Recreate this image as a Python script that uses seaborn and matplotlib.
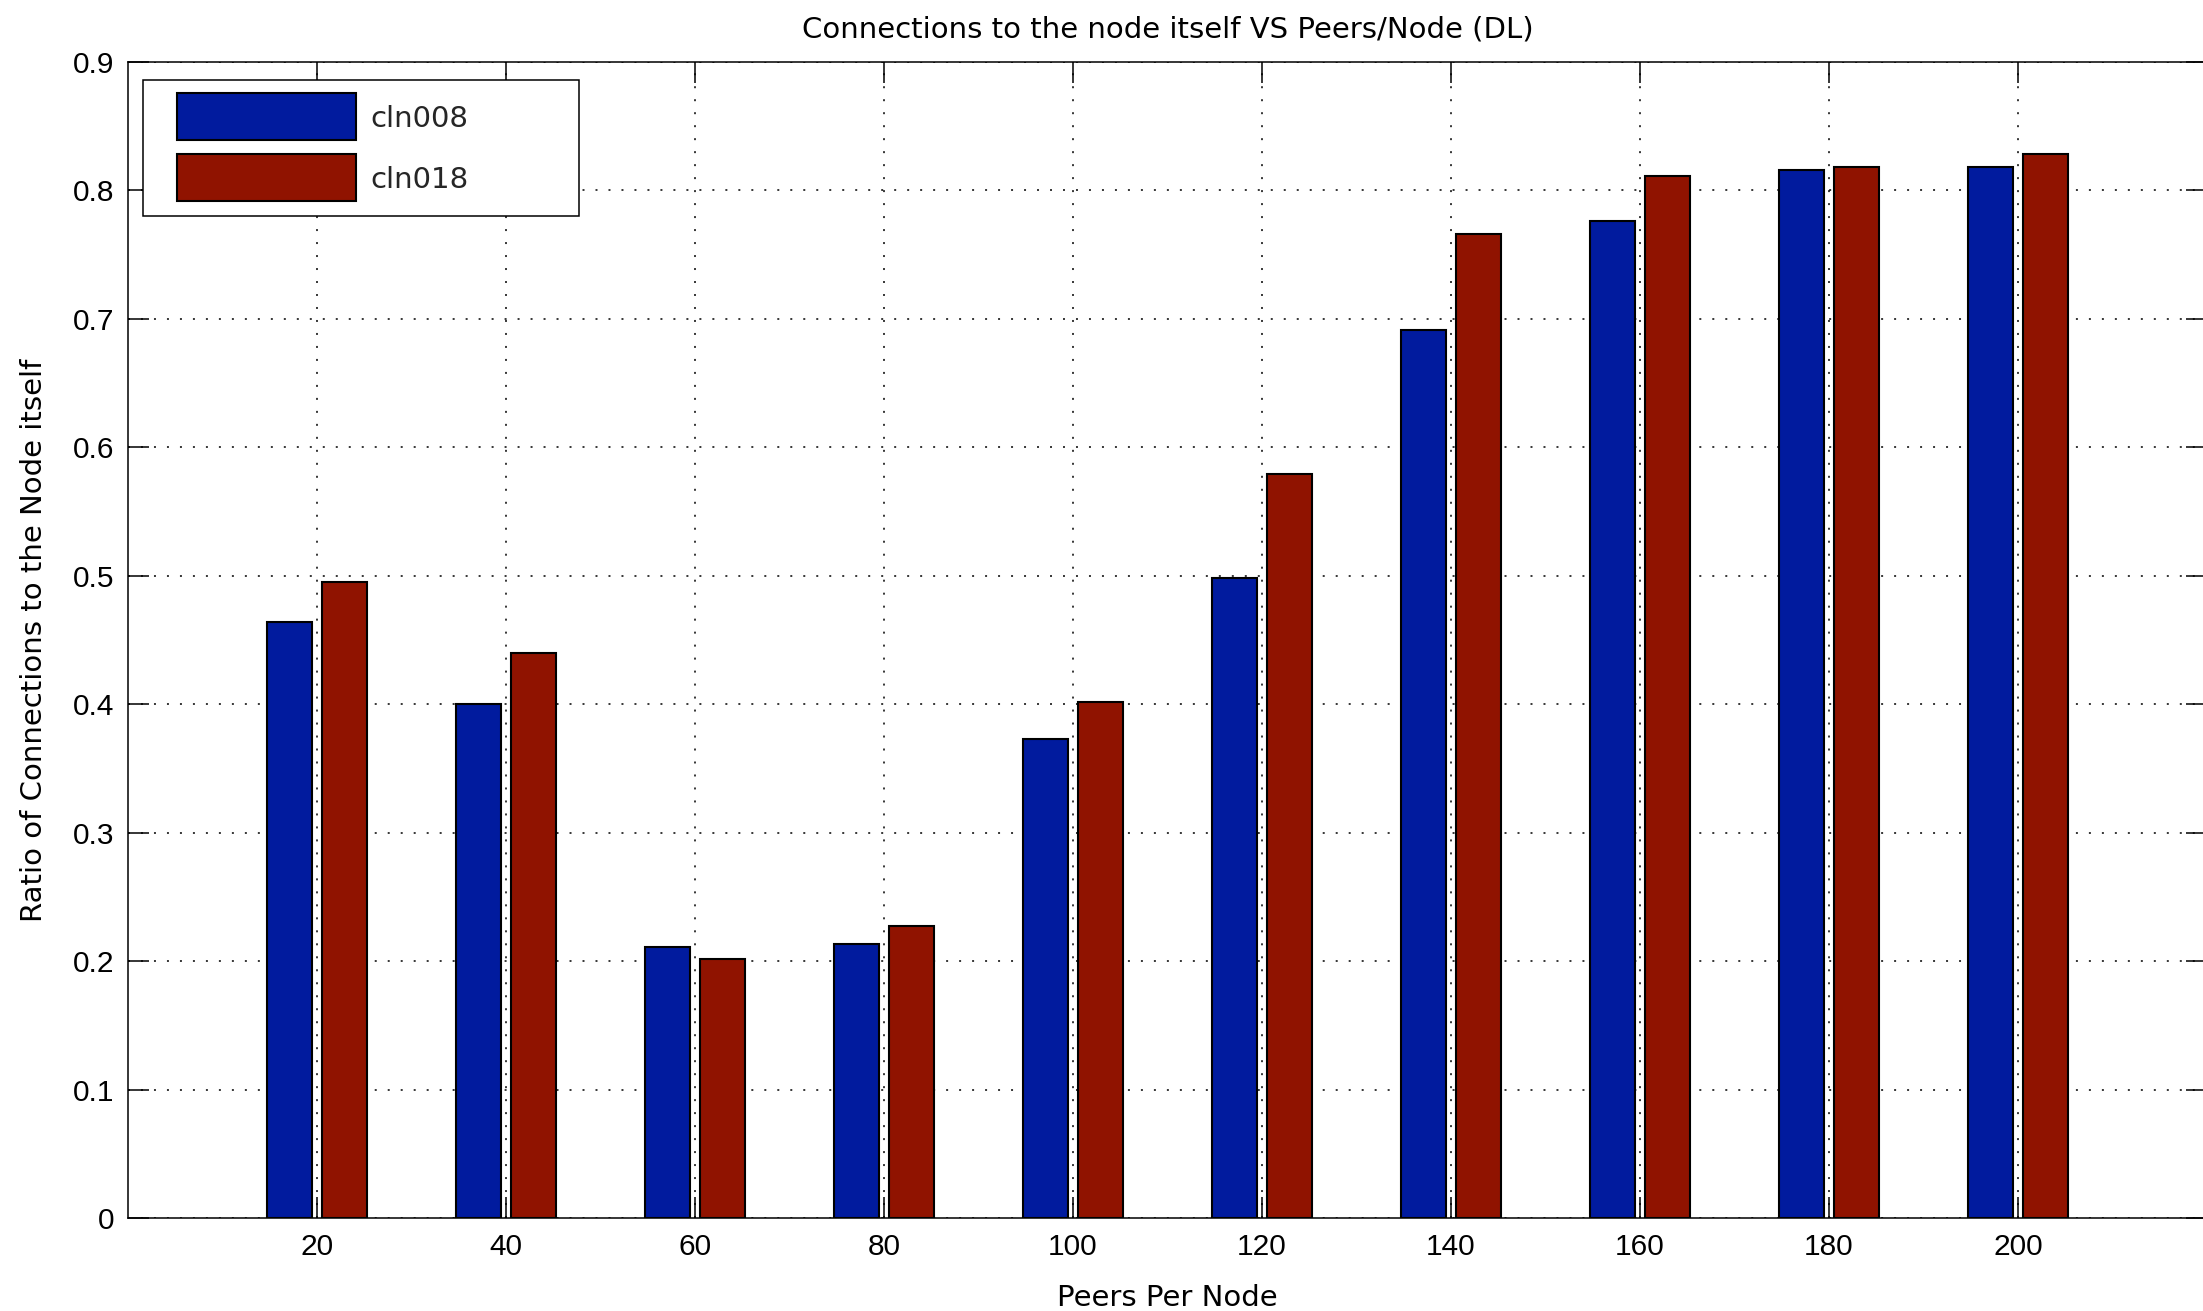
import numpy as np
import pandas as pd
import matplotlib
matplotlib.use("Agg")
import matplotlib.pyplot as plt
import seaborn as sns
import matplotlib.patches as mpatches
from matplotlib.legend_handler import HandlerPatch

# ---- data ----
peers = [20, 40, 60, 80, 100, 120, 140, 160, 180, 200]
cln008 = [0.464, 0.400, 0.211, 0.213, 0.373, 0.498, 0.691, 0.776, 0.816, 0.818]
cln018 = [0.495, 0.440, 0.202, 0.227, 0.402, 0.579, 0.766, 0.811, 0.818, 0.828]
series_names = ["cln008", "cln018"]
series_colors = ["#011b9e", "#901300"]
ytick_values = [0, 0.1, 0.2, 0.3, 0.4, 0.5, 0.6, 0.7, 0.8, 0.9]
ytick_labels = ["0", "0.1", "0.2", "0.3", "0.4", "0.5", "0.6", "0.7", "0.8", "0.9"]

title = "Connections to the node itself VS Peers/Node (DL)"
xlabel = "Peers Per Node"
ylabel = "Ratio of Connections to the Node itself"

df = pd.DataFrame({
    "peers": peers + peers,
    "series": [series_names[0]] * len(peers) + [series_names[1]] * len(peers),
    "value": cln008 + cln018,
})

sns.set_theme(style="white")
plt.rcParams["font.family"] = ["DejaVu Sans"]
FS = 21          # title / labels / legend
TICK_FS = 21.5   # tick labels
TICK_FONT = ["Liberation Sans", "DejaVu Sans"]

fig = plt.figure(figsize=(22.03, 13.11), dpi=100)
ax = fig.add_axes([0.0581, 0.0709, 0.9437, 0.8818])

sns.barplot(data=df, x="peers", y="value", hue="series", native_scale=True,
            width=0.58, gap=0.17, palette=series_colors, saturation=1,
            edgecolor="black", linewidth=1.5, errorbar=None, ax=ax)

ax.set_xlim(0, 220)
ax.set_ylim(0, 0.9)
ax.set_xticks(peers)
ax.set_xticklabels([str(p) for p in peers], family=TICK_FONT, fontsize=TICK_FS)
ax.set_yticks(ytick_values)
ax.set_yticklabels(ytick_labels, family=TICK_FONT, fontsize=TICK_FS)

ax.set_axisbelow(True)
ax.grid(True, color="black", linestyle=(0, (1.3, 7.2)), linewidth=1.1)

for s in ax.spines.values():
    s.set_visible(True)
    s.set_color("black")
    s.set_linewidth(1.1)

ax.tick_params(axis="both", which="major", direction="in", length=15, width=1.1,
               color="black", labelcolor="black",
               top=True, right=True, bottom=True, left=True, pad=10)
ax.tick_params(axis="x", pad=11)

ax.set_title(title, fontsize=FS, color="black", pad=18)
ax.set_xlabel(xlabel, fontsize=FS, color="black", labelpad=16)
ax.set_ylabel(ylabel, fontsize=FS, color="black", labelpad=18)

old = ax.get_legend()
handles = list(old.legend_handles)
labels = [t.get_text() for t in old.get_texts()]
old.remove()
for h in handles:
    h.set_edgecolor("black")
    h.set_linewidth(1.5)


def tall_patch(legend, orig_handle, xdescent, ydescent, width, height, fontsize):
    ph = 1.61 * fontsize
    cy = 0.36 * fontsize
    return mpatches.Rectangle((-xdescent, cy - ph / 2), width, ph)


leg = ax.legend(handles, labels, loc="upper left",
                bbox_to_anchor=(0.0072, 0.5, 0.2097, 0.4844), mode="expand",
                borderaxespad=0, fontsize=FS, frameon=True, fancybox=False,
                edgecolor="black", framealpha=1, borderpad=0.54,
                handlelength=6.75, handleheight=1.96, handletextpad=0.5,
                labelspacing=0.55,
                handler_map={mpatches.Rectangle: HandlerPatch(xpad=0.64,
                                                              patch_func=tall_patch)})
leg.get_frame().set_linewidth(1.1)
leg.set_zorder(10)

fig.savefig("out.png", dpi=100, facecolor="white")
